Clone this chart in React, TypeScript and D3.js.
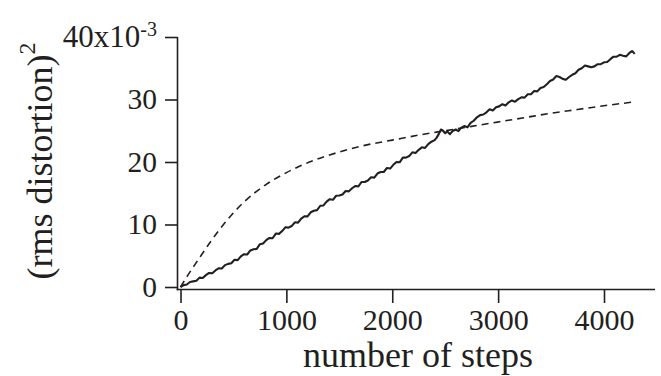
import React, { useEffect, useRef } from 'react';
import * as d3 from 'd3';

// steps vs (rms distortion)^2 in units of 1e-3
const walkSteps = [
  0, 30, 60, 90, 120, 150, 180, 210, 240, 270, 300, 330, 360, 390, 420, 450, 480, 510, 540, 570,
  600, 630, 660, 690, 720, 750, 780, 810, 840, 870, 900, 930, 960, 990, 1020, 1050, 1080, 1110, 1140, 1170,
  1200, 1230, 1260, 1290, 1320, 1350, 1380, 1410, 1440, 1470, 1500, 1530, 1560, 1590, 1620, 1650, 1680, 1710, 1740, 1770,
  1800, 1830, 1860, 1890, 1920, 1950, 1980, 2010, 2040, 2070, 2100, 2130, 2160, 2190, 2220, 2250, 2280, 2310, 2340, 2370,
  2400, 2420, 2440, 2460, 2480, 2500, 2520, 2545, 2570, 2600, 2625, 2650, 2680, 2710, 2740, 2770, 2800, 2830, 2860, 2890,
  2920, 2950, 2980, 3010, 3040, 3070, 3100, 3130, 3160, 3190, 3220, 3250, 3280, 3310, 3340, 3370, 3400, 3430, 3460, 3490,
  3520, 3550, 3580, 3610, 3640, 3670, 3700, 3730, 3760, 3790, 3820, 3850, 3880, 3910, 3940, 3970, 4000, 4030, 4060, 4090,
  4120, 4150, 4180, 4210, 4240, 4265, 4280, 4290,
];
const walkValues = [
  0, 0.3, 0.4, 0.8, 0.9, 1.0, 1.5, 1.45, 1.9, 2.25, 2.2, 2.65, 3.0, 2.95, 3.5, 3.7, 3.8, 4.35, 4.3, 4.9,
  5.25, 5.2, 5.85, 6.05, 6.1, 6.85, 6.95, 7.5, 7.85, 7.8, 8.55, 8.5, 8.95, 9.55, 9.5, 9.75, 10.35, 10.3, 10.95, 11.3,
  11.3, 11.95, 12.2, 12.3, 13.0, 13.05, 13.65, 14.05, 13.95, 14.6, 14.65, 14.8, 15.35, 15.3, 15.8, 16.15, 16.1, 16.8, 16.8, 17.05,
  17.55, 17.5, 18.15, 18.4, 18.4, 19.05, 18.95, 19.55, 20.0, 19.95, 20.7, 20.7, 20.95, 21.55, 21.45, 21.95, 22.35, 22.25, 22.85, 23.25,
  23.5, 23.9, 24.5, 25.2, 25.0, 24.6, 24.9, 24.45, 24.95, 25.2, 24.95, 25.45, 25.75, 25.55, 26.25, 26.6, 27.15, 27.5, 27.6, 27.95,
  28.45, 28.25, 28.75, 28.9, 29.25, 29.05, 29.55, 29.85, 29.65, 30.05, 30.35, 30.3, 30.85, 30.85, 31.35, 31.3, 31.85, 32.0, 32.45, 32.95,
  33.2, 33.75, 33.6, 33.3, 33.15, 33.6, 33.95, 34.2, 34.75, 35.0, 35.45, 35.3, 35.15, 35.3, 35.65, 35.65, 35.95, 36.0, 36.45, 36.85,
  36.85, 37.15, 37.0, 36.9, 37.45, 37.75, 37.5, 37.3,
];

const modelSteps = [0, 70, 165, 290, 450, 600, 800, 1000, 1250, 1500, 1750, 2000, 2250, 2500, 2750, 3000, 3250, 3500, 3750, 4000, 4280];
const modelValues = [0, 1.9, 4.3, 7.4, 10.9, 13.6, 16.3, 18.3, 20.2, 21.6, 22.7, 23.5, 24.3, 25.0, 25.7, 26.4, 27.1, 27.8, 28.4, 29.0, 29.6];

const xTicks = [0, 1000, 2000, 3000, 4000];
const yTicks = [0, 10, 20, 30, 40];

const W = 661;
const H = 376;
const FONT = '"Liberation Serif", "Times New Roman", serif';
const INK = '#231f20';

const App: React.FC = () => {
  const svgRef = useRef<SVGSVGElement>(null);

  useEffect(() => {
    document.body.style.margin = '0';
    if (!svgRef.current) return;
    const svg = d3.select(svgRef.current);
    svg.selectAll('*').remove();

    const x = d3.scaleLinear().domain([0, 4000]).range([180.5, 604]);
    const y = d3.scaleLinear().domain([0, 40]).range([287, 37]);

    const axisX = 177.5;
    const axisY = 289.5;

    // y axis
    const gy = svg.append('g').attr('transform', `translate(${axisX},0)`);
    gy.call(
      d3.axisLeft(y).tickValues(yTicks).tickSize(12.5).tickPadding(8)
        .tickFormat((d) => (d === 40 ? '' : String(d)))
    );
    gy.select('.domain').remove();
    gy.selectAll('line').attr('stroke', INK).attr('stroke-width', 1.6);
    gy.selectAll('text').attr('font-family', FONT).attr('font-size', 29.5).attr('fill', INK);

    // x axis
    const gx = svg.append('g').attr('transform', `translate(0,${axisY})`);
    gx.call(d3.axisBottom(x).tickValues(xTicks).tickSize(13.5).tickPadding(6).tickFormat((d) => String(d)));
    gx.select('.domain').remove();
    gx.selectAll('line').attr('stroke', INK).attr('stroke-width', 1.6);
    gx.selectAll('text').attr('font-family', FONT).attr('font-size', 30).attr('fill', INK);

    svg.append('line')
      .attr('x1', axisX).attr('x2', axisX).attr('y1', y(40)).attr('y2', axisY + 0.8)
      .attr('stroke', INK).attr('stroke-width', 1.6);
    svg.append('line')
      .attr('x1', axisX - 0.8).attr('x2', 655).attr('y1', axisY).attr('y2', axisY)
      .attr('stroke', INK).attr('stroke-width', 1.6);

    // top tick label with exponent
    const top = svg.append('text')
      .attr('x', 157).attr('y', y(40)).attr('dy', '0.32em')
      .attr('text-anchor', 'end')
      .attr('font-family', FONT).attr('font-size', 31).attr('fill', INK)
      .text('40x10');
    top.append('tspan').attr('font-size', 20).attr('dy', '-0.55em').text('-3');

    // lines
    const line = d3.line<[number, number]>()
      .x((d) => x(d[0]))
      .y((d) => y(d[1]));

    const modelPts = modelSteps.map((s, i) => [s, modelValues[i]] as [number, number]);
    svg.append('path')
      .attr('d', line.curve(d3.curveMonotoneX)(modelPts)!)
      .attr('fill', 'none')
      .attr('stroke', INK)
      .attr('stroke-width', 1.6)
      .attr('stroke-dasharray', '7,5');

    const walkPts = walkSteps.map((s, i) => [s, walkValues[i]] as [number, number]);
    svg.append('path')
      .attr('d', line.curve(d3.curveLinear)(walkPts)!)
      .attr('fill', 'none')
      .attr('stroke', INK)
      .attr('stroke-width', 2.1)
      .attr('stroke-linejoin', 'round');

    // axis titles
    svg.append('text')
      .attr('x', 418).attr('y', 367)
      .attr('text-anchor', 'middle')
      .attr('font-family', FONT).attr('font-size', 36).attr('fill', INK)
      .text('number of steps');

    const yt = svg.append('text')
      .attr('transform', `translate(52,161) rotate(-90)`)
      .attr('text-anchor', 'middle')
      .attr('font-family', FONT).attr('font-size', 36).attr('fill', INK)
      .text('(rms distortion)');
    yt.append('tspan').attr('font-size', 24).attr('dy', '-0.7em').text('2');
  }, []);

  return <svg ref={svgRef} width={W} height={H} style={{ display: 'block', background: '#fff' }} />;
};

export default App;
